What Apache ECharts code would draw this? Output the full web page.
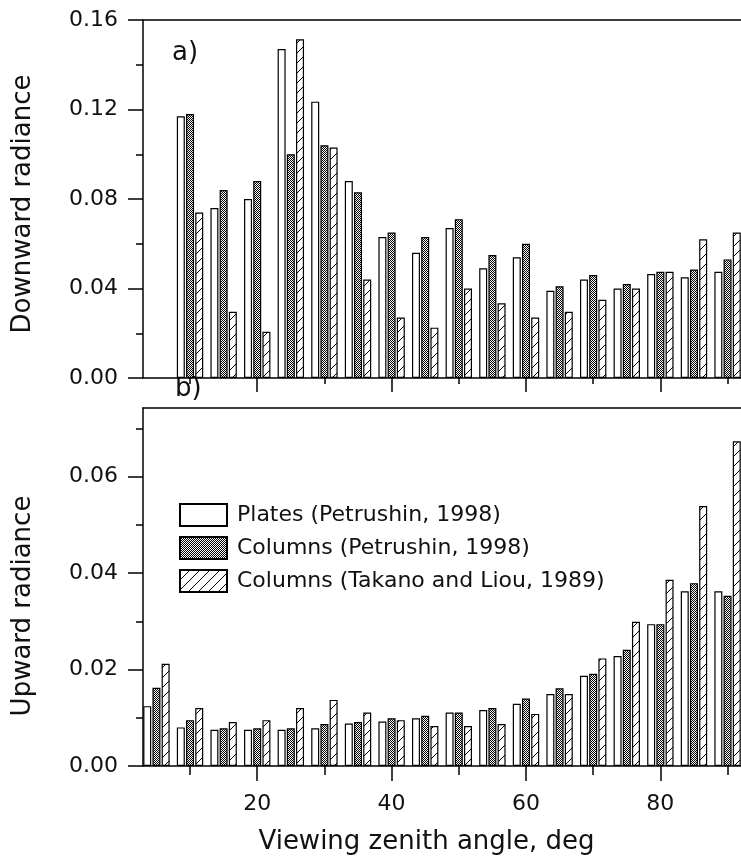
<!DOCTYPE html>
<html>
<head>
<meta charset="utf-8">
<script src="https://cdn.jsdelivr.net/npm/echarts@6/dist/echarts.min.js"></script>
<style>
html,body{margin:0;padding:0;background:#fff;}
#chart{width:741px;height:861px;}
</style>
</head>
<body>
<div id="chart"></div>
<script>
// ---- data ----
const seriesNames = ['Plates (Petrushin, 1998)', 'Columns (Petrushin, 1998)', 'Columns (Takano and Liou, 1989)'];

// a) Downward radiance
const anglesDown = [10, 15, 20, 25, 30, 35, 40, 45, 50, 55, 60, 65, 70, 75, 80, 85, 90];
const downPlates   = [0.117, 0.076, 0.080, 0.147, 0.1235, 0.088, 0.063, 0.056, 0.067, 0.049, 0.054, 0.039, 0.044, 0.040, 0.0465, 0.045, 0.0475];
const downColumnsP = [0.118, 0.084, 0.088, 0.100, 0.104, 0.083, 0.065, 0.063, 0.071, 0.055, 0.060, 0.041, 0.046, 0.042, 0.0475, 0.0485, 0.053];
const downColumnsT = [0.074, 0.0296, 0.0207, 0.1514, 0.103, 0.044, 0.027, 0.0225, 0.040, 0.0334, 0.027, 0.0296, 0.035, 0.040, 0.0475, 0.062, 0.065];

// b) Upward radiance
const anglesUp = [5, 10, 15, 20, 25, 30, 35, 40, 45, 50, 55, 60, 65, 70, 75, 80, 85, 90];
const upPlates   = [0.0124, 0.0080, 0.0075, 0.0075, 0.0075, 0.0078, 0.0088, 0.0092, 0.0099, 0.0111, 0.0116, 0.0129, 0.0149, 0.0187, 0.0228, 0.0294, 0.0362, 0.0362];
const upColumnsP = [0.0162, 0.0095, 0.0078, 0.0078, 0.0078, 0.0087, 0.0091, 0.0099, 0.0104, 0.0111, 0.0120, 0.0140, 0.0161, 0.0191, 0.0241, 0.0294, 0.0379, 0.0353];
const upColumnsT = [0.0212, 0.0120, 0.0091, 0.0095, 0.0120, 0.0137, 0.0111, 0.0095, 0.0083, 0.0083, 0.0087, 0.0108, 0.0149, 0.0223, 0.0299, 0.0386, 0.0539, 0.0673];

// axis ticks / labels
const xMajorTicks = [20, 40, 60, 80];
const xMinorTicks = [10, 30, 50, 70, 90];
const yDownMajor = [0, 0.04, 0.08, 0.12, 0.16];
const yDownMinor = [0.02, 0.06, 0.10, 0.14];
const yUpMajor = [0, 0.02, 0.04, 0.06];
const yUpMinor = [0.01, 0.03, 0.05, 0.07];

// ---- patterns ----
function dotPattern() {
  const c = document.createElement('canvas');
  c.width = 2; c.height = 2;
  const ctx = c.getContext('2d');
  ctx.fillStyle = '#ffffff'; ctx.fillRect(0, 0, 2, 2);
  ctx.fillStyle = '#000000'; ctx.fillRect(0, 0, 1, 1); ctx.fillRect(1, 1, 1, 1);
  return c;
}
function hatchPattern() {
  const s = 10;
  const c = document.createElement('canvas');
  c.width = s; c.height = s;
  const ctx = c.getContext('2d');
  ctx.fillStyle = '#ffffff'; ctx.fillRect(0, 0, s, s);
  ctx.strokeStyle = '#000000'; ctx.lineWidth = 1;
  ctx.beginPath();
  ctx.moveTo(-1, s + 1); ctx.lineTo(s + 1, -1);
  ctx.stroke();
  return c;
}
const fills = ['#ffffff', { image: dotPattern(), repeat: 'repeat' }, { image: hatchPattern(), repeat: 'repeat' }];

const FONT = 'DejaVu Sans';
const TXT = '#111';
const XMIN = 3, XMAX = 92;

function pairs(xs, ys) { return xs.map((x, i) => [x, ys[i]]); }

const lineStyle = { color: '#000', width: 1.5 };

function xAxes(gridIndex, majorLen, minorLen, withLabels) {
  return [
    {
      gridIndex, type: 'value', min: XMIN, max: XMAX, position: 'bottom',
      axisLine: { show: true, onZero: false, lineStyle },
      axisTick: { show: true, inside: false, length: majorLen, customValues: xMajorTicks, lineStyle: { color: '#000', width: 1.5 } },
      axisLabel: withLabels ? { show: true, customValues: xMajorTicks, margin: 27, fontFamily: FONT, fontSize: 22, color: TXT } : { show: false },
      splitLine: { show: false },
      name: withLabels ? 'Viewing zenith angle, deg' : '',
      nameLocation: 'middle', nameGap: 63,
      nameTextStyle: { fontFamily: FONT, fontSize: 26, color: TXT, padding: [0, 31, 0, 0] }
    },
    {
      gridIndex, type: 'value', min: XMIN, max: XMAX, position: 'bottom',
      axisLine: { show: false, onZero: false },
      axisTick: { show: true, inside: false, length: minorLen, customValues: xMinorTicks, lineStyle: { color: '#000', width: 1.5 } },
      axisLabel: { show: false }, splitLine: { show: false }
    },
    {
      gridIndex, type: 'value', min: XMIN, max: XMAX, position: 'top',
      axisLine: { show: true, onZero: false, lineStyle },
      axisTick: { show: false }, axisLabel: { show: false }, splitLine: { show: false }
    }
  ];
}

function yAxes(gridIndex, max, major, minor, name, namePad) {
  return [
    {
      gridIndex, type: 'value', min: 0, max, position: 'left',
      axisLine: { show: true, onZero: false, lineStyle },
      axisTick: { show: true, inside: false, length: 15, customValues: major, lineStyle: { color: '#000', width: 1.5 } },
      axisLabel: { show: true, customValues: major, margin: 25, fontFamily: FONT, fontSize: 22, color: TXT, formatter: v => v.toFixed(2) },
      splitLine: { show: false },
      name, nameLocation: 'middle', nameRotate: 90, nameGap: 107,
      nameTextStyle: { fontFamily: FONT, fontSize: 26, color: TXT, padding: namePad }
    },
    {
      gridIndex, type: 'value', min: 0, max, position: 'left',
      axisLine: { show: false, onZero: false },
      axisTick: { show: true, inside: false, length: 7, customValues: minor, lineStyle: { color: '#000', width: 1.5 } },
      axisLabel: { show: false }, splitLine: { show: false }
    }
  ];
}

function bars(xAxisIndex, yAxisIndex, xs, lists) {
  return lists.map((ys, i) => ({
    name: seriesNames[i], type: 'bar',
    xAxisIndex, yAxisIndex,
    data: pairs(xs, ys),
    barWidth: 8, barGap: '15%',
    itemStyle: { color: fills[i], borderColor: '#000', borderWidth: 1.2 },
    emphasis: { disabled: true },
    animation: false
  }));
}

const chart = echarts.init(document.getElementById('chart'), null, { renderer: 'canvas' });
chart.setOption({
  animation: false,
  backgroundColor: '#fff',
  grid: [
    { left: 143, top: 20, right: 0, height: 358 },
    { left: 143, top: 408, right: 0, height: 358 }
  ],
  xAxis: [].concat(xAxes(0, 14, 6, false), xAxes(1, 15, 9, true)),
  yAxis: [].concat(
    yAxes(0, 0.16, yDownMajor, yDownMinor, 'Downward radiance', [0, 10, 0, 0]),
    yAxes(1, 0.0742, yUpMajor, yUpMinor, 'Upward radiance', [0, 38, 0, 0])
  ),
  legend: {
    data: seriesNames, orient: 'vertical', left: 179, top: 503, padding: 0,
    itemWidth: 47, itemHeight: 22, itemGap: 9, icon: 'rect',
    itemStyle: { borderColor: '#000', borderWidth: 2 },
    textStyle: { fontFamily: FONT, fontSize: 22, lineHeight: 22, color: TXT, padding: [0, 0, 0, 5] },
    selectedMode: false
  },
  graphic: [
    { type: 'text', left: 172, top: 40, style: { text: 'a)', font: '26px "DejaVu Sans"', fill: TXT } },
    { type: 'text', left: 175, top: 376, style: { text: 'b)', font: '26px "DejaVu Sans"', fill: TXT } }
  ],
  series: [].concat(
    bars(0, 0, anglesDown, [downPlates, downColumnsP, downColumnsT]),
    bars(3, 2, anglesUp, [upPlates, upColumnsP, upColumnsT])
  )
});
</script>
</body>
</html>
